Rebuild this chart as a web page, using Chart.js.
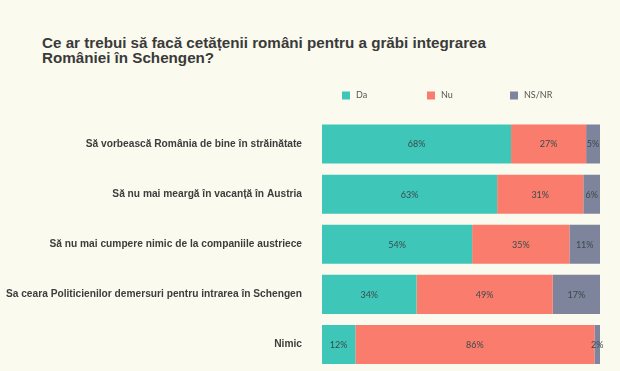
<!DOCTYPE html>
<html>
<head>
<meta charset="utf-8">
<script src="https://cdn.jsdelivr.net/npm/chart.js@4"></script>
<style>
  html, body { margin: 0; padding: 0; background: #fafaee; }
  #wrap { position: relative; width: 620px; height: 371px; }
  #title {
    position: absolute; left: 42px; top: 35px;
    font: bold 15.2px "Liberation Sans", Arial, sans-serif;
    line-height: 15px; color: #3a3a3a;
  }
  canvas { position: absolute; left: 0; top: 0; }
</style>
</head>
<body>
<div id="wrap">
  <div id="title">Ce ar trebui să facă cetățenii români pentru a grăbi integrarea<br>României în Schengen?</div>
  <canvas id="chart" width="620" height="371"></canvas>
</div>
<script>
// date sondaj
var categories = [
  'Să vorbească România de bine în străinătate',
  'Să nu mai meargă în vacanță în Austria',
  'Să nu mai cumpere nimic de la companiile austriece',
  'Sa ceara Politicienilor demersuri pentru intrarea în Schengen',
  'Nimic'
];
var seriesNames = ['Da', 'Nu', 'NS/NR'];
var da = [68, 63, 54, 34, 12];
var nu = [27, 31, 35, 49, 86];
var nsnr = [5, 6, 11, 17, 2];

var colors = ['#3ec6b9', '#f97c6c', '#7d849b'];

// etichete in mijlocul fiecarui segment
var segmentLabels = {
  id: 'segmentLabels',
  afterDatasetsDraw: function (chart) {
    var ctx = chart.ctx;
    ctx.save();
    ctx.font = '9px Lato, "Open Sans", sans-serif';
    ctx.fillStyle = '#3a4a4c';
    ctx.textAlign = 'center';
    ctx.textBaseline = 'middle';
    chart.data.datasets.forEach(function (ds, i) {
      chart.getDatasetMeta(i).data.forEach(function (bar, j) {
        ctx.fillText(ds.data[j] + '%', (bar.x + bar.base) / 2, bar.y + 0.5);
      });
    });
    ctx.restore();
  }
};

// legenda desenata manual (pozitii fixe ca in original)
var legendBoxes = {
  id: 'legendBoxes',
  afterDraw: function (chart) {
    var ctx = chart.ctx;
    var xs = [342, 427, 510];
    ctx.save();
    ctx.font = '9px Lato, "Open Sans", sans-serif';
    ctx.textBaseline = 'middle';
    chart.data.datasets.forEach(function (ds, i) {
      ctx.fillStyle = ds.backgroundColor;
      ctx.fillRect(xs[i], 91.5, 8, 8);
      ctx.fillStyle = '#555555';
      ctx.fillText(ds.label, xs[i] + 14, 95.5);
    });
    ctx.restore();
  }
};

var ctx = document.getElementById('chart').getContext('2d');
var chart = new Chart(ctx, {
  type: 'bar',
  data: {
    labels: categories,
    datasets: [
      { label: seriesNames[0], data: da, backgroundColor: colors[0] },
      { label: seriesNames[1], data: nu, backgroundColor: colors[1] },
      { label: seriesNames[2], data: nsnr, backgroundColor: colors[2] }
    ]
  },
  options: {
    indexAxis: 'y',
    responsive: false,
    animation: false,
    layout: { padding: { top: 119, bottom: 1.4, right: 20, left: 0 } },
    datasets: { bar: { barPercentage: 0.78, categoryPercentage: 1 } },
    plugins: {
      legend: { display: false },
      tooltip: { enabled: false }
    },
    scales: {
      x: { stacked: true, min: 0, max: 100, display: false },
      y: {
        stacked: true,
        grid: { display: false },
        border: { display: false },
        afterFit: function (scale) {
          scale.width = 322;
          scale.paddingTop = 0;
          scale.paddingBottom = 0;
        },
        ticks: {
          padding: 12,
          color: '#3d3d3d',
          font: { family: '"Liberation Sans", Arial, sans-serif', size: 10.2, weight: 'bold' }
        }
      }
    }
  },
  plugins: [segmentLabels, legendBoxes]
});
</script>
</body>
</html>
